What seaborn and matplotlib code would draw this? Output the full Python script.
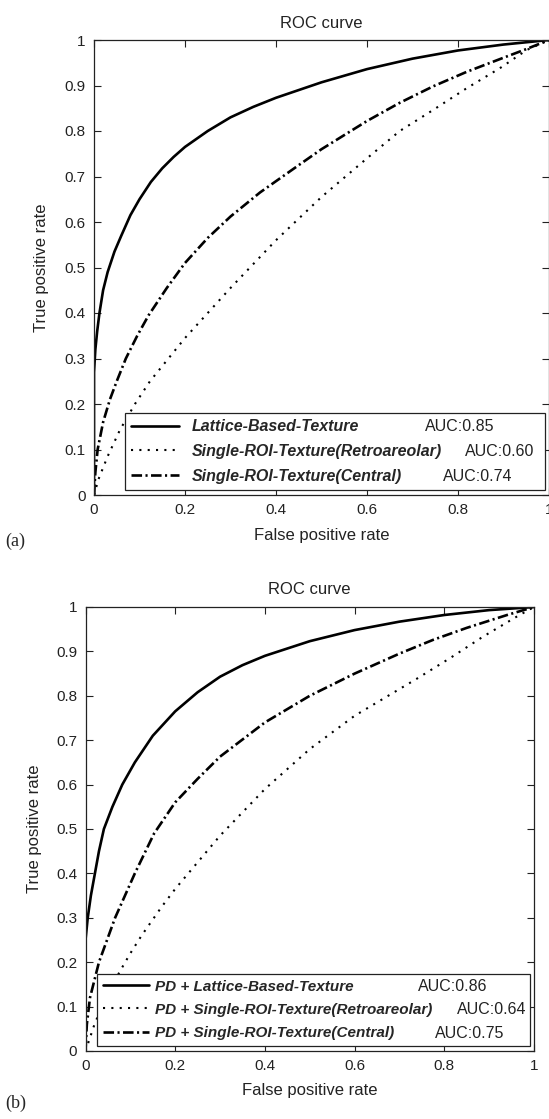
import seaborn as sns
import matplotlib.pyplot as plt

# ---- panel (a) ----
fpr_lattice_a = [0, 0, 0.003, 0.007, 0.012, 0.02, 0.03, 0.045, 0.06, 0.08, 0.1, 0.125, 0.15,
                 0.175, 0.2, 0.25, 0.3, 0.35, 0.4, 0.5, 0.6, 0.7, 0.8, 0.9, 1.0]
tpr_lattice_a = [0, 0.27, 0.32, 0.36, 0.40, 0.45, 0.49, 0.535, 0.57, 0.615, 0.65, 0.688, 0.718,
                 0.743, 0.765, 0.80, 0.83, 0.853, 0.873, 0.907, 0.936, 0.959, 0.977, 0.99, 1.0]
fpr_retro_a = [0, 0.01, 0.03, 0.057, 0.09, 0.123, 0.2, 0.3, 0.4, 0.5, 0.6, 0.672, 0.745,
               0.819, 0.892, 0.951, 1.0]
tpr_retro_a = [0, 0.035, 0.085, 0.143, 0.2, 0.25, 0.345, 0.455, 0.56, 0.655, 0.74, 0.8, 0.846,
               0.894, 0.938, 0.978, 1.0]
fpr_central_a = [0, 0.003, 0.008, 0.02, 0.035, 0.05, 0.07, 0.095, 0.12, 0.16, 0.2, 0.25, 0.3,
                 0.365, 0.45, 0.5, 0.6, 0.672, 0.745, 0.819, 0.892, 0.95, 1.0]
tpr_central_a = [0, 0.05, 0.1, 0.16, 0.21, 0.25, 0.3, 0.35, 0.395, 0.455, 0.51, 0.565, 0.612,
                 0.665, 0.725, 0.76, 0.822, 0.862, 0.898, 0.93, 0.958, 0.98, 1.0]
labels_a = ['Lattice-Based-Texture', 'Single-ROI-Texture(Retroareolar)', 'Single-ROI-Texture(Central)']
auc_a = ['AUC:0.85', 'AUC:0.60', 'AUC:0.74']

# ---- panel (b) ----
fpr_lattice_b = [0, 0, 0.005, 0.012, 0.021, 0.03, 0.041, 0.06, 0.082, 0.11, 0.13, 0.15, 0.2,
                 0.25, 0.3, 0.35, 0.4, 0.5, 0.6, 0.7, 0.8, 0.9, 1.0]
tpr_lattice_b = [0, 0.25, 0.3, 0.35, 0.4, 0.45, 0.5, 0.55, 0.6, 0.65, 0.68, 0.71, 0.765,
                 0.808, 0.843, 0.869, 0.89, 0.923, 0.948, 0.967, 0.982, 0.993, 1.0]
fpr_retro_b = [0, 0.02, 0.045, 0.077, 0.1, 0.125, 0.17, 0.2, 0.3, 0.4, 0.5, 0.6, 0.738,
               0.813, 0.886, 0.961, 1.0]
tpr_retro_b = [0, 0.06, 0.12, 0.18, 0.22, 0.26, 0.325, 0.365, 0.485, 0.59, 0.68, 0.755, 0.838,
               0.885, 0.933, 0.978, 1.0]
fpr_central_b = [0, 0.003, 0.01, 0.03, 0.066, 0.11, 0.153, 0.2, 0.25, 0.3, 0.4, 0.5, 0.6,
                 0.7, 0.775, 0.85, 0.94, 1.0]
tpr_central_b = [0, 0.06, 0.12, 0.2, 0.3, 0.4, 0.49, 0.56, 0.613, 0.663, 0.74, 0.8, 0.85,
                 0.895, 0.926, 0.953, 0.982, 1.0]
labels_b = ['PD + Lattice-Based-Texture', 'PD + Single-ROI-Texture(Retroareolar)',
            'PD + Single-ROI-Texture(Central)']
auc_b = ['AUC:0.86', 'AUC:0.64', 'AUC:0.75']

xtick_vals = [0, 0.2, 0.4, 0.6, 0.8, 1]
xtick_labels = ['0', '0.2', '0.4', '0.6', '0.8', '1']
ytick_vals = [0, 0.1, 0.2, 0.3, 0.4, 0.5, 0.6, 0.7, 0.8, 0.9, 1]
ytick_labels = ['0', '0.1', '0.2', '0.3', '0.4', '0.5', '0.6', '0.7', '0.8', '0.9', '1']

sns.set_style('ticks')
plt.rcParams['font.family'] = ['Liberation Sans', 'DejaVu Sans']

line_styles = [dict(linestyle='-', lw=1.9),
               dict(linestyle=(0, (1, 3)), lw=1.5),
               dict(linestyle=(0, (4, 1.3, 0.8, 1.3)), lw=1.9)]

fig = plt.figure(figsize=(5.49, 11.19), dpi=100)
ax_a = fig.add_axes([94 / 549, 1 - 495 / 1119, 455 / 549, 455 / 1119])
ax_b = fig.add_axes([85.5 / 549, 1 - 1051 / 1119, 448.5 / 549, 444 / 1119])


def draw_panel(ax, curves, labels, aucs, auc_x, leg_x0, leg_w, textpad, leg_size):
    for (fx, ty), lab, st in zip(curves, labels, line_styles):
        sns.lineplot(x=fx, y=ty, ax=ax, color='black', estimator=None, sort=False,
                     label=lab, **st)
    ax.set_xlim(0, 1)
    ax.set_ylim(0, 1)
    ax.set_xticks(xtick_vals)
    ax.set_xticklabels(xtick_labels)
    ax.set_yticks(ytick_vals)
    ax.set_yticklabels(ytick_labels)
    ax.tick_params(direction='in', top=True, right=True, length=5, width=0.8,
                   labelsize=11, pad=6, colors='#222222')
    for sp in ax.spines.values():
        sp.set_linewidth(0.9)
        sp.set_color('#222222')
    ax.set_title('ROC curve', fontsize=12, pad=9, color='#222222')
    ax.set_xlabel('False positive rate', fontsize=12, color='#222222')
    ax.set_ylabel('True positive rate', fontsize=12, color='#222222')
    ax.xaxis.set_label_coords(0.5, -0.072)
    ax.yaxis.set_label_coords(-0.098, 0.5)
    leg = ax.legend(loc='lower left', bbox_to_anchor=(leg_x0, 0.011, leg_w, 0.2), mode='expand',
                    borderaxespad=0, frameon=True, fancybox=False, edgecolor='#222222',
                    framealpha=1, handlelength=3.0, handletextpad=textpad, borderpad=0.4,
                    labelspacing=0.6,
                    prop=dict(family='Liberation Sans', weight='bold', style='italic',
                              size=leg_size))
    leg.get_frame().set_linewidth(0.9)
    fig.canvas.draw()
    for t, auc, xa in zip(leg.get_texts(), aucs, auc_x):
        bb = t.get_window_extent()
        yc = ax.transAxes.inverted().transform((0, (bb.y0 + bb.y1) / 2))[1]
        ax.text(xa, yc, auc, transform=ax.transAxes, va='center', ha='left',
                fontsize=11.5, color='#222222', zorder=10)


draw_panel(ax_a, [(fpr_lattice_a, tpr_lattice_a), (fpr_retro_a, tpr_retro_a),
                  (fpr_central_a, tpr_central_a)],
           labels_a, auc_a, [0.727, 0.815, 0.767], 0.068, 0.923, 0.8, 11.5)
draw_panel(ax_b, [(fpr_lattice_b, tpr_lattice_b), (fpr_retro_b, tpr_retro_b),
                  (fpr_central_b, tpr_central_b)],
           labels_b, auc_b, [0.741, 0.828, 0.779], 0.025, 0.966, 0.4, 11)

fig.text(5 / 549, 1 - 541 / 1119, '(a)', family='Liberation Serif', fontsize=13,
         va='center', ha='left')
fig.text(5 / 549, 1 - 1103 / 1119, '(b)', family='Liberation Serif', fontsize=13,
         va='center', ha='left')

fig.savefig('out.png', dpi=100)
